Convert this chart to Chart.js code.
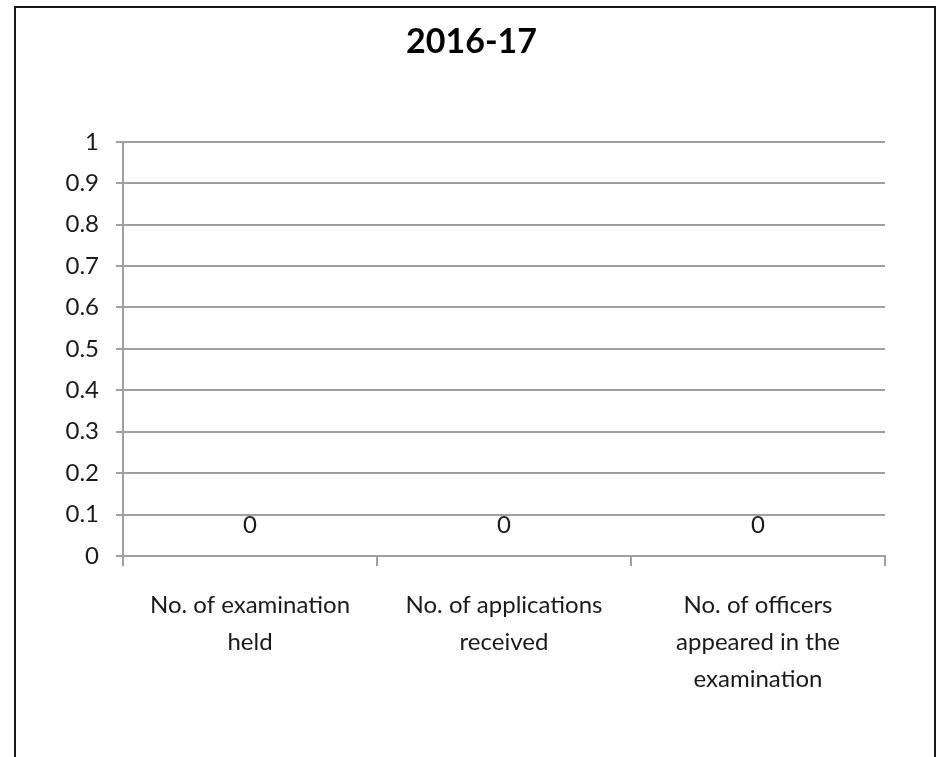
<!DOCTYPE html>
<html>
<head>
<meta charset="utf-8">
<title>2016-17</title>
<script src="https://cdn.jsdelivr.net/npm/chart.js@4/dist/chart.umd.min.js"></script>
<style>
    html, body { margin: 0; padding: 0; background: #fff; overflow: hidden; }
    .frame {
        position: absolute;
        left: 14px;
        top: 6px;
        width: 918px;
        height: 800px;
        border: 2px solid #1a1a1a;
    }
    #chart { position: absolute; left: 0; top: 0; }
</style>
</head>
<body>
<div class="frame"></div>
<canvas id="chart" width="943" height="757"></canvas>
<script>
// Chart data
const chartTitle = '2016-17';
const categories = [
    ['No. of examination', 'held'],
    ['No. of applications', 'received'],
    ['No. of officers', 'appeared in the', 'examination']
];
const values = [0, 0, 0];
const yMin = 0;
const yMax = 1;
const yStep = 0.1;

// Draws the value above each bar, like the Excel data labels
const valueLabels = {
    id: 'valueLabels',
    afterDatasetsDraw(chart) {
        const ctx = chart.ctx;
        const meta = chart.getDatasetMeta(0);
        ctx.save();
        ctx.font = '24px Lato';
        ctx.fillStyle = '#1a1a1a';
        ctx.textAlign = 'center';
        ctx.textBaseline = 'middle';
        meta.data.forEach((bar, i) => {
            ctx.fillText(String(values[i]), bar.x, bar.y - 31);
        });
        ctx.restore();
    }
};

const ctx = document.getElementById('chart').getContext('2d');
new Chart(ctx, {
    type: 'bar',
    data: {
        labels: categories,
        datasets: [{
            label: chartTitle,
            data: values,
            backgroundColor: '#4f81bd'
        }]
    },
    options: {
        responsive: false,
        animation: false,
        // equal side padding keeps the title centred on the page
        layout: { padding: { left: 58, right: 58, top: 0, bottom: 0 } },
        plugins: {
            legend: { display: false },
            tooltip: { enabled: false },
            title: {
                display: true,
                text: chartTitle,
                color: '#000',
                font: { family: 'Lato', size: 34, weight: 'bold' },
                padding: { top: 22, bottom: 79 }
            }
        },
        scales: {
            x: {
                offset: true,
                grid: {
                    offset: true,
                    drawOnChartArea: false,
                    drawTicks: true,
                    tickLength: 10,
                    color: '#a0a0a0',
                    lineWidth: 2
                },
                border: { color: '#a0a0a0', width: 2 },
                ticks: {
                    color: '#1a1a1a',
                    font: { family: 'Lato', size: 24, lineHeight: 1.53 },
                    maxRotation: 0,
                    autoSkip: false,
                    padding: 21
                },
                afterFit(scale) { scale.height = 757 - 556; }
            },
            y: {
                min: yMin,
                max: yMax,
                grid: {
                    color: '#a0a0a0',
                    lineWidth: 2,
                    tickLength: 7
                },
                border: { color: '#a0a0a0', width: 2 },
                ticks: {
                    stepSize: yStep,
                    color: '#1a1a1a',
                    font: { family: 'Lato', size: 24 },
                    padding: 17,
                    callback: value => Number(value.toFixed(1)).toString()
                },
                afterFit(scale) { scale.width = 123 - 58; }
            }
        }
    },
    plugins: [valueLabels]
});
</script>
</body>
</html>
